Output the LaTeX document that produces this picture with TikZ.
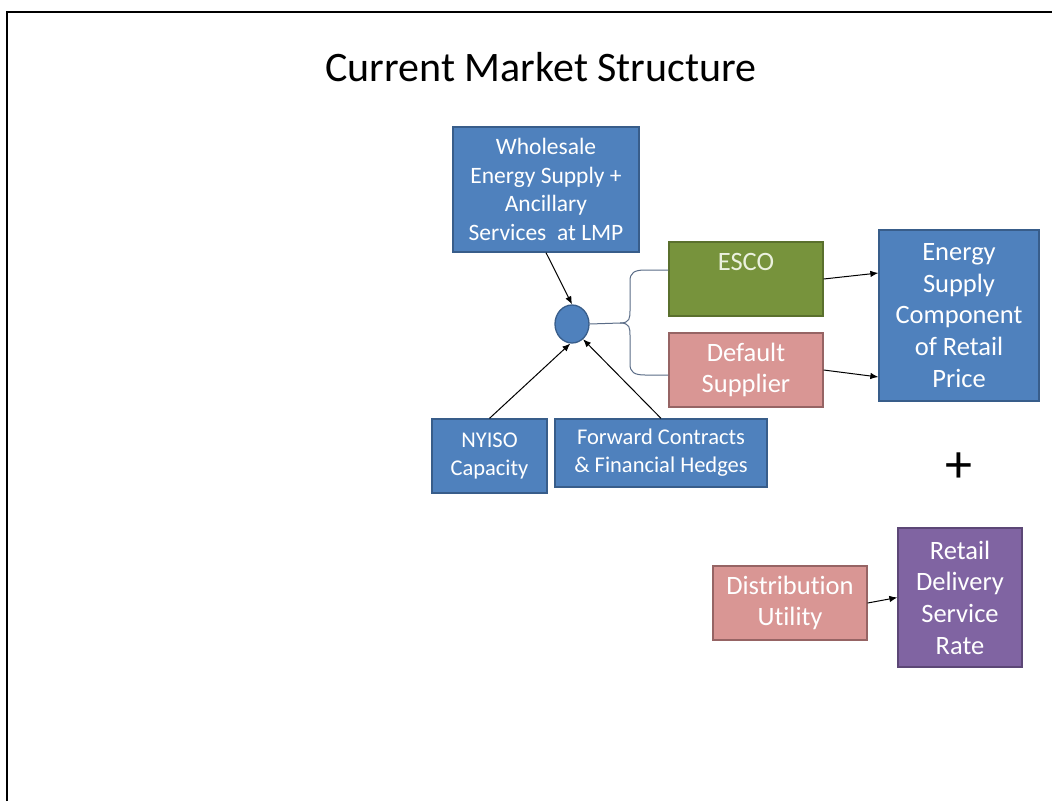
\documentclass[tikz,border=0pt]{standalone}
\usepackage{fontspec}
\setmainfont{Carlito}[Ligatures=NoCommon]
\usetikzlibrary{arrows.meta,shapes.geometric}
\definecolor{cblue}{RGB}{79,129,189}
\definecolor{cblueb}{RGB}{56,93,138}
\definecolor{cgreen}{RGB}{119,147,60}
\definecolor{cgreenb}{RGB}{90,112,45}
\definecolor{cpink}{RGB}{217,150,148}
\definecolor{cpinkb}{RGB}{150,100,100}
\definecolor{cpurple}{RGB}{128,100,162}
\definecolor{cpurpleb}{RGB}{92,71,118}
\definecolor{ccream}{RGB}{235,241,222}
\definecolor{cbrace}{RGB}{90,108,135}
\tikzset{
  boxbase/.style={rectangle, inner sep=0pt, align=center, line width=1.3pt, text=white},
  bluebox/.style={boxbase, fill=cblue, draw=cblueb},
  greenbox/.style={boxbase, fill=cgreen, draw=cgreenb, text=ccream},
  pinkbox/.style={boxbase, fill=cpink, draw=cpinkb},
  purplebox/.style={boxbase, fill=cpurple, draw=cpurpleb},
  smalltext/.style={font=\fontsize{22.5}{28}\selectfont},
  bigtext/.style={font=\fontsize{26.5}{31.7}\selectfont},
  arr/.style={-{Latex[length=8pt,width=6.5pt]}, line width=1pt, black},
  bracecon/.style={line width=1pt, cbrace},
}
\begin{document}
\begin{tikzpicture}[x=1pt,y=-1pt]
\useasboundingbox (0,0) rectangle (1052,801);
\fill[white] (0,0) rectangle (1052,801);
% frame (top and left only)
\draw[line width=2pt, black] (7,801) -- (7,12) -- (1052,12);

% title
\node[anchor=base, font=\fontsize{42}{50}\selectfont] (title) at (541,81) {Current Market Structure};

% nodes
\node[bluebox, minimum width=186pt, minimum height=125pt, font=\fontsize{23.5}{28.5}\selectfont] (whole) at (546,189.5)
  {Wholesale\\Energy Supply +\\Ancillary\\Services\ \ at LMP};
\node[ellipse, fill=cblue, draw=cblueb, line width=1.3pt, minimum width=34pt, minimum height=38pt, inner sep=0pt] (hub) at (572,324) {};
\node[greenbox, bigtext, minimum width=154pt, minimum height=74pt] (esco) at (746,279) {\raisebox{-7pt}{ESCO}\\\strut};
\node[pinkbox, bigtext, minimum width=154pt, minimum height=74pt] (dflt) at (746,370) {Default\\Supplier};
\node[bluebox, bigtext, minimum width=160pt, minimum height=171pt] (energy) at (959,315.5)
  {Energy\\Supply\\Component\\of Retail\\Price};
\node[bluebox, smalltext, minimum width=115pt, minimum height=74pt] (nyiso) at (489.5,456) {NYISO\\Capacity};
\node[bluebox, smalltext, minimum width=212pt, minimum height=68pt] (fwd) at (661,453) {Forward Contracts\\\& Financial Hedges};
\node[font=\fontsize{54}{60}\selectfont, inner sep=0pt] (plus) at (959,468) {+};
\node[pinkbox, bigtext, minimum width=154pt, minimum height=74pt] (dist) at (790,603) {Distribution\\Utility};
\node[purplebox, bigtext, minimum width=124pt, minimum height=139pt] (retail) at (960,597.5)
  {Retail\\Delivery\\Service\\Rate};

% arrows
\draw[arr] (whole.south) -- (hub.north);
\draw[arr] (nyiso.north) -- (hub.265);
\draw[arr] (fwd.north) -- (hub.306);
\draw[arr] (esco.east) -- ([yshift=42.5pt]energy.west);
\draw[arr] (dflt.east) -- ([yshift=-61.5pt]energy.west);
\draw[arr] (dist.east) -- (retail.west);

% brace connectors
\draw[bracecon] (hub.east) -- (620,323) .. controls (630,323) and (630,318) .. (630,310)
  -- (630,281) .. controls (630,273) and (634,270) .. (645,270) -- ([yshift=9pt]esco.west);
\draw[bracecon] (620,323) .. controls (630,323) and (630,328) .. (630,336)
  -- (630,364) .. controls (630,372) and (634,375) .. (645,375) -- ([yshift=-5pt]dflt.west);
\end{tikzpicture}
\end{document}
